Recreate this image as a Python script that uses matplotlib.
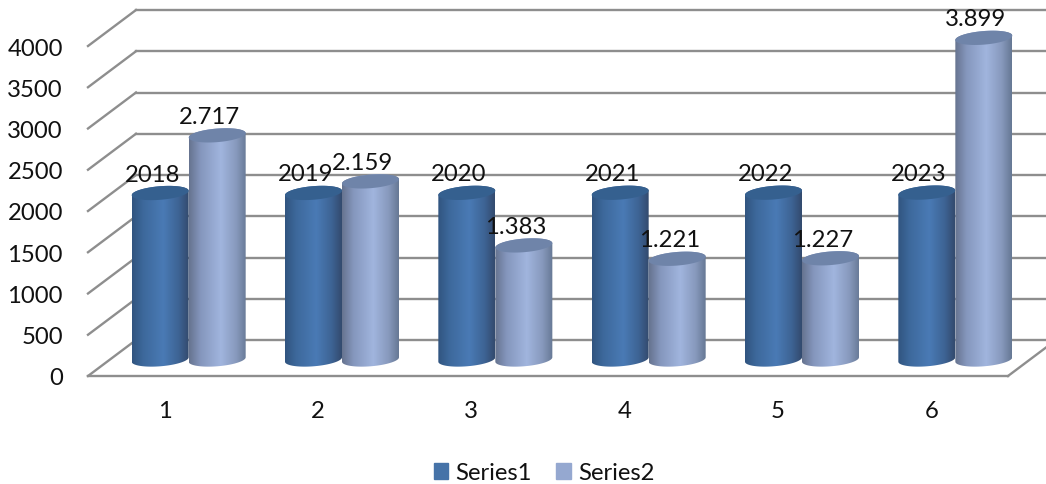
import matplotlib
matplotlib.use('Agg')
import matplotlib.pyplot as plt
import numpy as np
from matplotlib.patches import Patch, Polygon

categories = [1, 2, 3, 4, 5, 6]
series1 = [2018, 2019, 2020, 2021, 2022, 2023]
series2 = [2717, 2159, 1383, 1221, 1227, 3899]
yticks = [0, 500, 1000, 1500, 2000, 2500, 3000, 3500, 4000]

plt.rcParams['font.family'] = ['Lato', 'DejaVu Sans']
FONT = 17.2
GRID = '#8e8e8e'

fig = plt.figure(figsize=(10.46, 4.85), dpi=100)
# plot box is the front face of the 3d chart, in pixels
ax = fig.add_axes([88 / 1046, 1 - 377 / 485, 920 / 1046, 330 / 485])

# size of one pixel in data units
pxX = 6 / 920
pxY = 4000 / 330
depthX = 48 * pxX
depthY = 36 * pxY


def ellipsePart(cx, cy, start, stop):
    t = np.linspace(start, stop, 60)
    a = 28.5 * pxX
    x = cx + a * np.cos(t)
    y = cy + (6.8 * np.sin(t) + 2.2 * np.cos(t)) * pxY
    return np.column_stack([x, y])


def drawCylinder(cat, offset, value, stops, capColor, z):
    cx = cat + depthX / 2 + offset * pxX
    base = depthY / 2 - 1.5 * pxY
    top = base + value
    a = 28.5 * pxX

    outline = np.vstack([ellipsePart(cx, base, np.pi, 2 * np.pi),
                         ellipsePart(cx, top, 0, np.pi)])
    body = Polygon(outline, closed=True, facecolor='none', edgecolor='none',
                   transform=ax.transData, clip_on=False)
    ax.add_patch(body)

    # horizontal shading of the cylinder
    pos = np.linspace(0, 1, 256)
    grad = np.column_stack([np.interp(pos, [0, .2, .55, .82, 1], s) for s in stops])
    im = ax.imshow(grad[np.newaxis, :, :], extent=(cx - a, cx + a, base - 10 * pxY, top + 10 * pxY),
                   aspect='auto', zorder=z, interpolation='bilinear')
    im.set_clip_path(body)
    im.set_clip_box(fig.bbox)

    cap = Polygon(ellipsePart(cx, top, 0, 2 * np.pi), closed=True, facecolor=capColor,
                  edgecolor='none', zorder=z + 0.1, clip_on=False)
    ax.add_patch(cap)
    return cx, top


# walls and floor lines
for v in yticks:
    ax.plot([0.5, 0.5 + depthX], [v, v + depthY], color=GRID, lw=1.7, clip_on=False, zorder=1)
    ax.plot([0.5 + depthX, 6.5 + depthX], [v + depthY, v + depthY], color=GRID, lw=1.7,
            clip_on=False, zorder=1)
ax.plot([0.5, 6.5], [0, 0], color=GRID, lw=1.7, clip_on=False, zorder=1)
ax.plot([6.5, 6.5 + depthX], [0, depthY], color=GRID, lw=1.7, clip_on=False, zorder=1)

stops1 = [[.19, .24, .29, .24, .20], [.33, .41, .48, .39, .29], [.50, .61, .71, .58, .43]]
stops2 = [[.40, .52, .63, .53, .40], [.45, .59, .71, .60, .47], [.56, .74, .87, .74, .58]]

labels = []
for i, cat in enumerate(categories):
    cx, top = drawCylinder(cat, -28.5, series1[i], stops1, '#35608f', 5)
    labels.append((cx, top, str(series1[i])))
    cx, top = drawCylinder(cat, 28.5, series2[i], stops2, '#6f84a9', 6)
    labels.append((cx, top, f'{series2[i]:,}'.replace(',', '.')))

for cx, top, txt in labels:
    ax.annotate(txt, (cx, top), xytext=(-8, 19), textcoords='offset pixels', ha='center',
                va='center', fontsize=FONT, color='#111111', zorder=10, annotation_clip=False)

ax.set_xlim(0.5, 6.5)
ax.set_ylim(0, 4000)
ax.set_xticks(categories)
ax.set_yticks(yticks)
ax.tick_params(length=0, labelsize=FONT, labelcolor='#111111')
ax.tick_params(axis='x', pad=17)
ax.tick_params(axis='y', pad=18)
for s in ax.spines.values():
    s.set_visible(False)
ax.patch.set_alpha(0)

handles = [Patch(color='#4673a8', label='Series1'), Patch(color='#95a8d0', label='Series2')]
fig.legend(handles=handles, loc='center', bbox_to_anchor=(544 / 1046, 1 - 474 / 485), ncol=2,
           frameon=False, fontsize=FONT, handlelength=0.62, handleheight=0.62,
           handletextpad=0.3, columnspacing=1.0, borderpad=0, labelcolor='#111111')

fig.savefig('out.png', dpi=100)
